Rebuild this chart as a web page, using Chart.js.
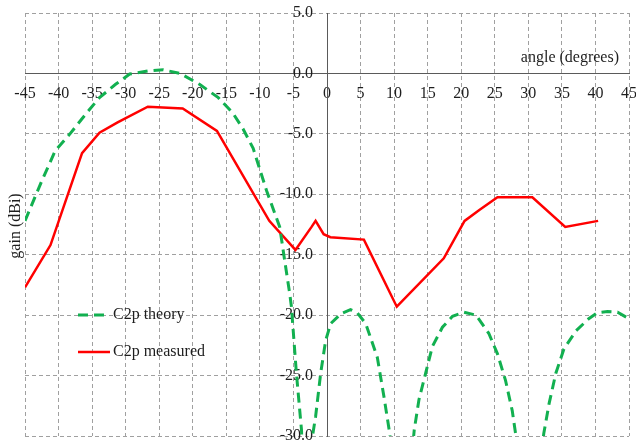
<!DOCTYPE html>
<html>
<head>
<meta charset="utf-8">
<script src="https://cdn.jsdelivr.net/npm/chart.js@4.4.1/dist/chart.umd.min.js"></script>
<style>
  html, body { margin: 0; padding: 0; background: #ffffff; }
  #wrap { width: 636px; height: 445px; }
</style>
</head>
<body>
<div id="wrap"><canvas id="c" width="636" height="445"></canvas></div>
<script>
// Radiation pattern of the C2p antenna: computed vs. measured gain

// Theoretical pattern (angle in degrees, gain in dBi; nulls fall below the plotted range)
const theoryAngle = [-45, -42.5, -40.5, -38.3, -36, -33.9, -31.5, -29.4, -26.7, -24.4, -21.9, -19, -16.2, -14, -12.5, -11, -9, -7.05, -6.3, -5.56, -5.3, -4.56, -3.8, -3.2, -2.1, -1.7, -0.94, -0.2, 0.55, 2.04, 3.5, 4.5, 5.77, 7.5, 8.5, 9.35, 11.2, 13, 13.7, 14.7, 15.7, 17.2, 18.7, 20.4, 22.2, 24.1, 25.4, 26.6, 27.6, 28.1, 30.2, 32.3, 33.1, 34.1, 35.3, 37.1, 39.0, 40.3, 41.8, 43.3, 45];
const theoryGain  = [-12.2, -8.9, -6.4, -5.0, -3.4, -2.0, -0.9, -0.05, 0.2, 0.3, 0.0, -0.9, -2.0, -3.3, -4.6, -6.2, -9.7, -12.7, -15.5, -18.2, -19.3, -24.8, -29.5, -40, -29.8, -28.4, -24.8, -22.1, -20.7, -19.9, -19.55, -19.8, -20.7, -23.5, -26.8, -29.8, -40, -29.5, -27, -24.8, -22.6, -21, -20.1, -19.75, -20.0, -21.5, -23.2, -25.4, -27.9, -29.8, -40, -29.8, -27.3, -24.8, -22.8, -21.3, -20.3, -19.8, -19.7, -19.75, -20.3];

// Measured pattern
const measuredAngle = [-45, -41.2, -36.5, -33.9, -31.2, -26.7, -21.5, -16.4, -8.6, -4.7, -2.3, -1.7, -0.5, 0.5, 5.5, 10.4, 17.4, 20.5, 22.7, 25.4, 30.6, 35.5, 40.4];
const measuredGain  = [-17.7, -14.2, -6.6, -4.9, -4.05, -2.75, -2.9, -4.75, -12.2, -14.6, -12.7, -12.2, -13.3, -13.55, -13.75, -19.3, -15.3, -12.2, -11.3, -10.25, -10.25, -12.7, -12.2];

// Axis ranges and labels
const angleTicks = [-45, -40, -35, -30, -25, -20, -15, -10, -5, 0, 5, 10, 15, 20, 25, 30, 35, 40, 45];
const gainTicks  = [5, 0, -5, -10, -15, -20, -25, -30];
const seriesNames = ['C2p theory', 'C2p measured'];
const axisTitles = { x: 'angle (degrees)', y: 'gain (dBi)' };

const toPoints = (xs, ys) => xs.map((x, i) => ({ x: x, y: ys[i] }));

const SERIF = '"Liberation Serif", "Times New Roman", serif';
const GRID = '#a0a0a0';
const AXIS = '#5a5a5a';
const TEXT = '#1e1e1e';

// axes sit inside the plot, so their labels must not enlarge the margins
const noOverflow = (scale) => {
  scale.paddingLeft = 0; scale.paddingRight = 0;
  scale.paddingTop = 0; scale.paddingBottom = 0;
};

// Axis titles and the in-plot legend
const annotate = {
  id: 'annotate',
  afterDraw(chart) {
    const ctx = chart.ctx;
    const area = chart.chartArea;
    ctx.save();
    ctx.fillStyle = TEXT;
    ctx.font = '16px ' + SERIF;

    // x title, upper right inside the plot
    ctx.textAlign = 'right';
    ctx.textBaseline = 'middle';
    ctx.fillText(axisTitles.x, area.right - 10, 58);

    // y title, rotated, left of the plot
    ctx.save();
    ctx.translate(16, 226);
    ctx.rotate(-Math.PI / 2);
    ctx.textAlign = 'center';
    ctx.fillText(axisTitles.y, 0, 0);
    ctx.restore();

    // legend
    const rows = [315, 352];
    ctx.textAlign = 'left';
    chart.data.datasets.forEach((ds, i) => {
      const y = rows[i];
      const x0 = area.left + 53;
      ctx.save();
      ctx.strokeStyle = ds.borderColor;
      ctx.lineWidth = ds.borderWidth;
      ctx.setLineDash(ds.borderDash || []);
      ctx.beginPath();
      ctx.moveTo(x0, y);
      ctx.lineTo(x0 + 32, y);
      ctx.stroke();
      ctx.restore();
      ctx.fillStyle = TEXT;
      ctx.fillText(ds.label, x0 + 35, y);
    });
    ctx.restore();
  }
};

new Chart(document.getElementById('c'), {
  type: 'line',
  data: {
    datasets: [
      {
        label: seriesNames[0],
        data: toPoints(theoryAngle, theoryGain),
        borderColor: '#12b050',
        borderWidth: 3,
        borderDash: [10, 6],
        pointRadius: 0,
        tension: 0,
        fill: false
      },
      {
        label: seriesNames[1],
        data: toPoints(measuredAngle, measuredGain),
        borderColor: '#ff0000',
        borderWidth: 2.5,
        pointRadius: 0,
        tension: 0,
        fill: false
      }
    ]
  },
  options: {
    responsive: false,
    animation: false,
    events: [],
    layout: { padding: { left: 25, right: 7, top: 13, bottom: 9 } },
    plugins: { legend: { display: false }, tooltip: { enabled: false } },
    scales: {
      x: {
        type: 'linear',
        position: { y: 0 },
        min: angleTicks[0],
        max: angleTicks[angleTicks.length - 1],
        afterBuildTicks: (scale) => { scale.ticks = angleTicks.map(v => ({ value: v })); },
        afterFit: noOverflow,
        grid: { color: GRID, lineWidth: 1, drawTicks: false },
        border: { display: true, color: AXIS, width: 1, dash: [4, 3] },
        ticks: {
          padding: 11,
          color: TEXT,
          font: { family: SERIF, size: 16 },
          maxRotation: 0,
          autoSkip: false,
          callback: (v) => String(v)
        }
      },
      y: {
        type: 'linear',
        position: 'center',
        min: gainTicks[gainTicks.length - 1],
        max: gainTicks[0],
        afterBuildTicks: (scale) => { scale.ticks = gainTicks.slice().reverse().map(v => ({ value: v })); },
        afterFit: noOverflow,
        grid: { color: GRID, lineWidth: 1, drawTicks: false },
        border: { display: true, color: AXIS, width: 1, dash: [4, 3] },
        ticks: {
          padding: 14,
          color: TEXT,
          font: { family: SERIF, size: 16 },
          autoSkip: false,
          callback: (v) => Number(v).toFixed(1)
        }
      }
    }
  },
  plugins: [annotate]
});
</script>
</body>
</html>
